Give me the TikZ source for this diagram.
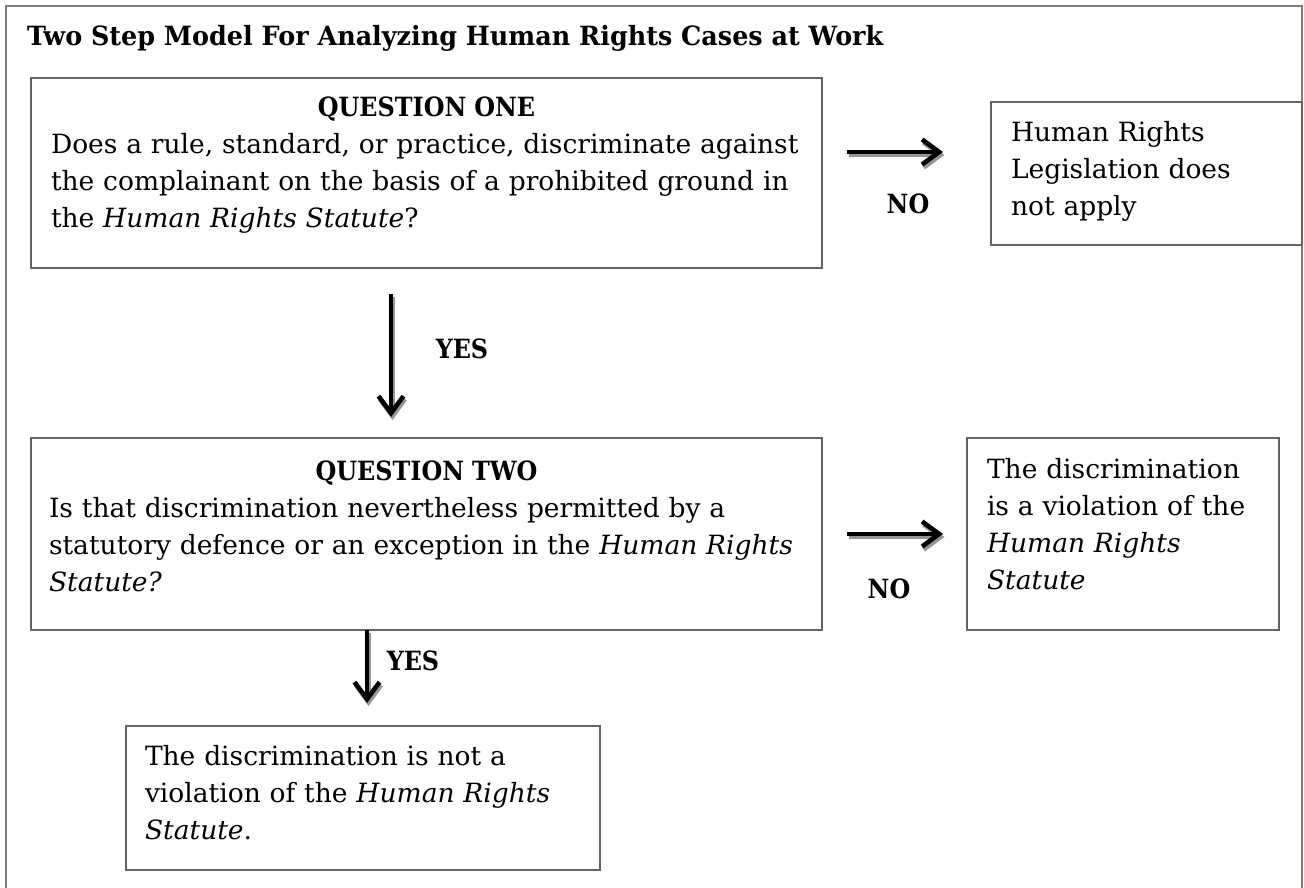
\documentclass[tikz,border=0pt]{standalone}
\usepackage{fontspec}
\usepackage{graphicx}
\setmainfont{DejaVu Serif}
\usetikzlibrary{arrows.meta}
\definecolor{boxgray}{RGB}{100,100,100}
\definecolor{framegray}{RGB}{125,125,125}
\definecolor{shadowgray}{RGB}{150,150,150}
\newcommand{\bnarrow}[2][0.9]{\scalebox{#1}[1]{\bfseries #2}}
\begin{document}
\begin{tikzpicture}[x=1pt,y=-1pt,
  box/.style={draw=boxgray, line width=1.4pt, anchor=north west, inner ysep=0pt, outer sep=0pt,
    align=left, font=\fontsize{26.5pt}{37pt}\selectfont},
  flow/.style={line width=4.6pt, -{Straight Barb[length=17pt,width=25pt]}},
  flowshadow/.style={flow, draw=shadowgray},
  lab/.style={font=\fontsize{26.5pt}{37pt}\selectfont, anchor=base, inner sep=0pt}]
\useasboundingbox (0,0) rectangle (1304,888);
\fill[white] (0,0) rectangle (1304,888);
% outer frame
\draw[framegray, line width=1.6pt] (6,900) -- (6,6) -- (1302,6) -- (1302,900);
% title
\node[anchor=base west, inner sep=0pt, font=\fontsize{26.5pt}{37pt}\selectfont] (title) at (27,46)
  {\bnarrow[0.96]{Two Step Model For Analyzing Human Rights Cases at Work}};
% boxes
\node[box, text width=751pt, inner xsep=20pt, minimum width=791pt, minimum height=190pt] (q1) at (31,78)
  {\rule{0pt}{30pt}\makebox[\hsize]{\bnarrow{QUESTION ONE}}\\
   Does a rule, standard, or practice, discriminate against\\
   the complainant on the basis of a prohibited ground in\\
   the \textit{Human Rights Statute}?\rule[-31pt]{0pt}{31pt}};
\node[box, text width=271pt, inner xsep=20pt, minimum width=311pt, minimum height=143pt] (hr) at (991,102)
  {\rule{0pt}{30pt}Human Rights\\
   Legislation does\\
   not apply\rule[-19pt]{0pt}{19pt}};
\node[box, text width=755pt, inner xsep=18pt, minimum width=791pt, minimum height=192pt] (q2) at (31,438)
  {\rule{0pt}{30pt}\makebox[\hsize]{\bnarrow{QUESTION TWO}}\\
   Is that discrimination nevertheless permitted by a\\
   statutory defence or an exception in the \textit{Human Rights}\\
   \textit{Statute?}\rule[-27pt]{0pt}{27pt}};
\node[box, text width=272pt, inner xsep=20pt, minimum width=312pt, minimum height=192pt] (d3) at (967,438)
  {\rule{0pt}{30pt}The discrimination\\
   is a violation of the\\
   \textit{Human Rights}\\
   \textit{Statute}\rule[-31pt]{0pt}{31pt}};
\node[box, text width=436pt, inner xsep=19pt, minimum width=474pt, minimum height=144pt] (r4) at (126,726)
  {\rule{0pt}{30pt}The discrimination is not a\\
   violation of the \textit{Human Rights}\\
   \textit{Statute}.\rule[-22pt]{0pt}{22pt}};
% connectors: shadows
\begin{scope}[transform canvas={xshift=1.5pt,yshift=-3pt}]
\draw[flowshadow, shorten <=25pt, shorten >=48pt] ([yshift=21pt]q1.east) -- ([yshift=21pt]q1.east -| hr.west);
\draw[flowshadow, shorten <=26pt, shorten >=21pt] ([xshift=-35.5pt]q1.south) -- ([xshift=-35.5pt]q1.south |- q2.north);
\draw[flowshadow, shorten <=25pt, shorten >=24pt] (q2.east) -- (q2.east -| d3.west);
\draw[flowshadow, shorten >=23pt] ([xshift=-59.5pt]q2.south) -- ([xshift=-59.5pt]q2.south |- r4.north);
\end{scope}
% connectors
\draw[flow, shorten <=25pt, shorten >=48pt] ([yshift=21pt]q1.east) -- ([yshift=21pt]q1.east -| hr.west);
\draw[flow, shorten <=26pt, shorten >=21pt] ([xshift=-35.5pt]q1.south) -- ([xshift=-35.5pt]q1.south |- q2.north);
\draw[flow, shorten <=25pt, shorten >=24pt] (q2.east) -- (q2.east -| d3.west);
\draw[flow, shorten >=23pt] ([xshift=-59.5pt]q2.south) -- ([xshift=-59.5pt]q2.south |- r4.north);
% labels
\node[lab] (no1) at (908,213) {\bnarrow{NO}};
\node[lab] (yes1) at (462,358) {\bnarrow{YES}};
\node[lab] (no2) at (889,598) {\bnarrow{NO}};
\node[lab] (yes2) at (413,670) {\bnarrow{YES}};
\end{tikzpicture}
\end{document}
